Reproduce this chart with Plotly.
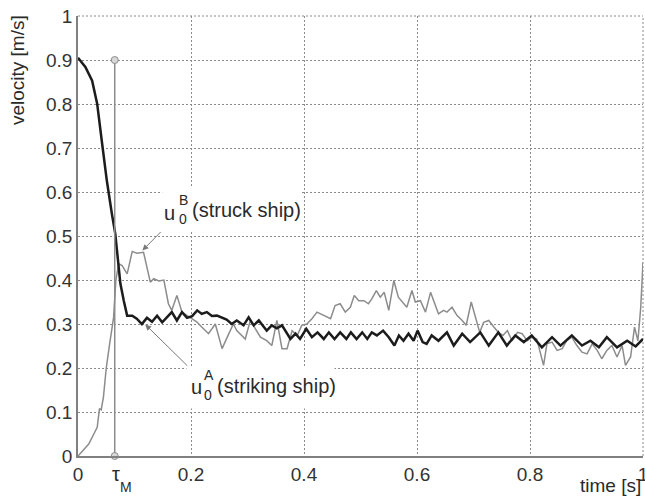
import plotly.graph_objects as go

# ---- data ----
t_A = [0.000, 0.013, 0.025, 0.034, 0.042, 0.051, 0.060, 0.066, 0.069, 0.075,
       0.081, 0.087, 0.096, 0.104, 0.113, 0.122, 0.131, 0.140, 0.149, 0.157,
       0.166, 0.175, 0.184, 0.193, 0.202, 0.211, 0.219, 0.228, 0.237, 0.246,
       0.255, 0.263, 0.272, 0.281, 0.293, 0.302, 0.311, 0.320, 0.329, 0.334,
       0.343, 0.352, 0.361, 0.368, 0.376, 0.385, 0.393, 0.404, 0.414, 0.424,
       0.435, 0.444, 0.454, 0.464, 0.475, 0.483, 0.493, 0.503, 0.512, 0.520,
       0.529, 0.540, 0.550, 0.560, 0.568, 0.576, 0.585, 0.594, 0.601, 0.610,
       0.617, 0.626, 0.638, 0.653, 0.665, 0.680, 0.694, 0.712, 0.727, 0.744,
       0.759, 0.774, 0.789, 0.803, 0.821, 0.839, 0.854, 0.874, 0.892, 0.907,
       0.922, 0.936, 0.954, 0.972, 0.987, 1.000]
v_A = [0.905, 0.884, 0.853, 0.800, 0.717, 0.626, 0.550, 0.505, 0.467, 0.392,
       0.353, 0.319, 0.319, 0.312, 0.300, 0.314, 0.305, 0.319, 0.304, 0.315,
       0.327, 0.308, 0.327, 0.314, 0.318, 0.331, 0.323, 0.327, 0.318, 0.319,
       0.314, 0.310, 0.300, 0.308, 0.297, 0.315, 0.297, 0.308, 0.293, 0.285,
       0.297, 0.290, 0.297, 0.283, 0.266, 0.278, 0.266, 0.289, 0.270, 0.281,
       0.266, 0.281, 0.266, 0.281, 0.266, 0.281, 0.266, 0.281, 0.266, 0.281,
       0.274, 0.285, 0.270, 0.251, 0.274, 0.262, 0.278, 0.262, 0.285, 0.259,
       0.255, 0.274, 0.262, 0.281, 0.251, 0.278, 0.259, 0.281, 0.251, 0.281,
       0.251, 0.274, 0.259, 0.274, 0.247, 0.270, 0.251, 0.274, 0.251, 0.262,
       0.247, 0.270, 0.247, 0.262, 0.249, 0.266]

t_B = [0.000, 0.010, 0.019, 0.028, 0.034, 0.038, 0.041, 0.045, 0.050, 0.056,
       0.063, 0.067, 0.072, 0.078, 0.087, 0.096, 0.104, 0.116, 0.128, 0.134,
       0.143, 0.152, 0.160, 0.166, 0.175, 0.184, 0.199, 0.210, 0.219, 0.231,
       0.243, 0.255, 0.267, 0.275, 0.281, 0.296, 0.305, 0.314, 0.323, 0.334,
       0.343, 0.352, 0.361, 0.370, 0.379, 0.388, 0.396, 0.405, 0.414, 0.423,
       0.435, 0.447, 0.455, 0.464, 0.473, 0.482, 0.489, 0.497, 0.506, 0.514,
       0.520, 0.528, 0.535, 0.542, 0.550, 0.559, 0.567, 0.576, 0.582, 0.591,
       0.597, 0.606, 0.615, 0.624, 0.638, 0.647, 0.653, 0.662, 0.671, 0.680,
       0.687, 0.696, 0.703, 0.711, 0.718, 0.727, 0.736, 0.744, 0.752, 0.760,
       0.768, 0.778, 0.786, 0.795, 0.804, 0.812, 0.824, 0.830, 0.839, 0.848,
       0.857, 0.865, 0.874, 0.883, 0.892, 0.901, 0.910, 0.919, 0.927, 0.936,
       0.945, 0.954, 0.963, 0.969, 0.978, 0.985, 0.991, 0.996, 1.000]
v_B = [0.000, 0.015, 0.027, 0.050, 0.065, 0.108, 0.105, 0.134, 0.200, 0.255,
       0.315, 0.399, 0.437, 0.433, 0.414, 0.465, 0.461, 0.463, 0.395, 0.403,
       0.398, 0.400, 0.346, 0.331, 0.365, 0.327, 0.314, 0.305, 0.293, 0.278,
       0.300, 0.244, 0.278, 0.300, 0.285, 0.266, 0.308, 0.290, 0.270, 0.262,
       0.251, 0.308, 0.244, 0.244, 0.285, 0.274, 0.297, 0.300, 0.312, 0.327,
       0.319, 0.312, 0.342, 0.346, 0.327, 0.338, 0.365, 0.353, 0.353, 0.346,
       0.357, 0.376, 0.361, 0.372, 0.331, 0.399, 0.361, 0.346, 0.338, 0.376,
       0.350, 0.353, 0.327, 0.372, 0.323, 0.331, 0.327, 0.338, 0.319, 0.308,
       0.297, 0.350, 0.315, 0.281, 0.304, 0.308, 0.293, 0.281, 0.274, 0.285,
       0.262, 0.281, 0.278, 0.262, 0.270, 0.266, 0.206, 0.255, 0.259, 0.240,
       0.244, 0.262, 0.270, 0.251, 0.236, 0.232, 0.255, 0.240, 0.221, 0.240,
       0.251, 0.225, 0.251, 0.206, 0.225, 0.293, 0.262, 0.338, 0.440]

tau_M = 0.065
tau_stem = [0.0, 0.9]

x_tickvals = [0, 0.2, 0.4, 0.6, 0.8, 1.0]
x_ticktext = ["0", "0.2", "0.4", "0.6", "0.8", "1"]
y_tickvals = [0, 0.1, 0.2, 0.3, 0.4, 0.5, 0.6, 0.7, 0.8, 0.9, 1.0]
y_ticktext = ["0", "0.1", "0.2", "0.3", "0.4", "0.5", "0.6", "0.7", "0.8", "0.9", "1"]

assert len(t_A) == len(v_A)
assert len(t_B) == len(v_B)

FONT = "Liberation Sans, Arial, sans-serif"
TXT = "#2a2a2a"
GRID = "#8a8a8a"

fig = go.Figure()
fig.add_trace(go.Scatter(x=t_B, y=v_B, mode="lines",
                         line=dict(color="#8c8c8c", width=1.5), showlegend=False,
                         cliponaxis=False))
fig.add_trace(go.Scatter(x=t_A, y=v_A, mode="lines",
                         line=dict(color="#1c1c1c", width=2.5), showlegend=False))
fig.add_trace(go.Scatter(x=[tau_M, tau_M], y=tau_stem, mode="lines+markers",
                         line=dict(color="#8c8c8c", width=1.5),
                         marker=dict(symbol="circle", size=7, color="#d8d8d8",
                                     line=dict(color="#8c8c8c", width=1)),
                         showlegend=False, cliponaxis=False))

# white boxes behind the labels (hide grid)
fig.add_shape(type="rect", x0=0.149, x1=0.394, y0=0.512, y1=0.612,
              fillcolor="white", line=dict(width=0), layer="between")
fig.add_shape(type="rect", x0=0.192, x1=0.454, y0=0.108, y1=0.200,
              fillcolor="white", line=dict(width=0), layer="between")
# dotted grid lines along the top and right borders
fig.add_shape(type="line", xref="paper", yref="paper", x0=0, x1=1, y0=1, y1=1,
              line=dict(color=GRID, width=1, dash="2px,2px"), layer="below")
fig.add_shape(type="line", xref="paper", yref="paper", x0=1, x1=1, y0=0, y1=1,
              line=dict(color=GRID, width=1, dash="2px,2px"), layer="below")

ann = []
def txt(x, y, s, size, xanchor="left", xref="x", yref="y", angle=0):
    ann.append(dict(x=x, y=y, xref=xref, yref=yref, text=s, showarrow=False,
                    xanchor=xanchor, yanchor="middle", textangle=angle,
                    font=dict(family=FONT, size=size, color=TXT)))

# struck ship label
txt(0.149, 0.553, "u", 20)
txt(0.176, 0.582, "B", 14)
txt(0.176, 0.538, "0", 14)
txt(0.198, 0.560, "(struck ship)", 20)
# striking ship label
txt(0.197, 0.157, "u", 20)
txt(0.219, 0.185, "A", 14)
txt(0.219, 0.138, "0", 14)
txt(0.242, 0.159, "(striking ship)", 20)

# arrows
ann.append(dict(x=0.114, y=0.467, ax=0.149, ay=0.5125, axref="x", ayref="y",
                xref="x", yref="y", text="", showarrow=True, arrowhead=2,
                arrowsize=1.2, arrowwidth=1, arrowcolor="#7a7a7a"))
ann.append(dict(x=0.119, y=0.299, ax=0.196, ay=0.202, axref="x", ayref="y",
                xref="x", yref="y", text="", showarrow=True, arrowhead=2,
                arrowsize=1.2, arrowwidth=1, arrowcolor="#7a7a7a"))

# tau_M label
txt(tau_M + 0.003, -0.042, "τ", 20, xanchor="center", yref="paper")
txt(tau_M + 0.020, -0.070, "M", 14, xanchor="center", yref="paper")
# axis titles
txt(1.0, -0.067, "time [s]", 19, xanchor="right", xref="paper", yref="paper")
txt(-0.107, 0.876, "velocity [m/s]", 19, xanchor="center", xref="paper",
    yref="paper", angle=-90)

fig.update_layout(
    width=645, height=496,
    margin=dict(l=78, r=2, t=16, b=40),
    paper_bgcolor="white", plot_bgcolor="white",
    annotations=ann,
    font=dict(family=FONT, size=19, color=TXT),
    xaxis=dict(range=[0, 1.0], tickvals=x_tickvals, ticktext=x_ticktext,
               showgrid=True, gridcolor=GRID, griddash="2px,2px", gridwidth=1,
               zeroline=False, showline=True, linecolor="#808080", linewidth=1.5,
               ticks="", tickfont=dict(size=19, color="#333333"),
               ticklabeloverflow="allow", automargin=False),
    yaxis=dict(range=[0, 1.0], tickvals=y_tickvals, ticktext=y_ticktext,
               showgrid=True, gridcolor=GRID, griddash="2px,2px", gridwidth=1,
               zeroline=False, showline=True, linecolor="#808080", linewidth=1.5,
               ticks="", tickfont=dict(size=19, color="#333333"),
               ticklabeloverflow="allow", automargin=False),
)

# remove the page's default body margin so the 645x496 figure fills the window
fig.write_html("out.html",
               config={"displayModeBar": False},
               post_script="document.body.style.margin='0';"
                           "document.documentElement.style.overflow='hidden';")
